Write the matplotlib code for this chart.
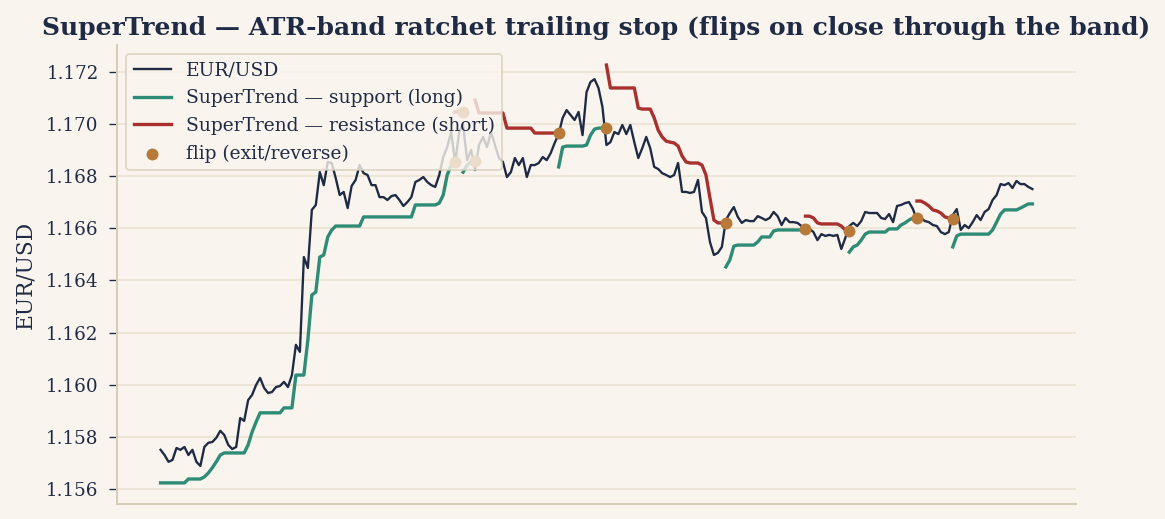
"""
SuperTrend sobre EUR/USD: precio, bandas de soporte/resistencia y puntos de giro.
"""
import numpy as np
import matplotlib
matplotlib.use("Agg")
import matplotlib.pyplot as plt

# ── Datos ─────────────────────────────────────────────────────────────────────
PRICE = [
    1.15750, 1.15730, 1.15704, 1.15711, 1.15757, 1.15750, 1.15761, 1.15730, 1.15750, 1.15704,
    1.15688, 1.15761, 1.15777, 1.15780, 1.15796, 1.15823, 1.15807, 1.15769, 1.15753, 1.15761,
    1.15872, 1.15861, 1.15941, 1.15961, 1.15999, 1.16026, 1.15988, 1.15968, 1.15972, 1.15991,
    1.15995, 1.16011, 1.15991, 1.16037, 1.16153, 1.16126, 1.16490, 1.16448, 1.16671, 1.16690,
    1.16816, 1.16766, 1.16855, 1.16851, 1.16793, 1.16728, 1.16740, 1.16678, 1.16763, 1.16786,
    1.16843, 1.16812, 1.16805, 1.16766, 1.16766, 1.16720, 1.16720, 1.16709, 1.16724, 1.16728,
    1.16709, 1.16686, 1.16701, 1.16720, 1.16778, 1.16786, 1.16797, 1.16778, 1.16766, 1.16759,
    1.16805, 1.16874, 1.16912, 1.16970, 1.16851, 1.16970, 1.16997, 1.16862, 1.16901, 1.16824,
    1.16920, 1.16951, 1.16912, 1.16970, 1.16920, 1.16870, 1.16855, 1.16797, 1.16816, 1.16870,
    1.16843, 1.16870, 1.16797, 1.16843, 1.16843, 1.16851, 1.16874, 1.16862, 1.16889, 1.16928,
    1.16962, 1.17024, 1.17054, 1.17035, 1.17016, 1.17047, 1.16958, 1.17123, 1.17162, 1.17173,
    1.17139, 1.17066, 1.16920, 1.16931, 1.16970, 1.16962, 1.16997, 1.16962, 1.16997, 1.16931,
    1.16870, 1.16908, 1.16951, 1.16908, 1.16836, 1.16828, 1.16812, 1.16805, 1.16797, 1.16805,
    1.16851, 1.16740, 1.16740, 1.16736, 1.16740, 1.16786, 1.16663, 1.16640, 1.16548, 1.16498,
    1.16506, 1.16529, 1.16632, 1.16659, 1.16682, 1.16644, 1.16621, 1.16632, 1.16628, 1.16628,
    1.16647, 1.16640, 1.16632, 1.16640, 1.16663, 1.16647, 1.16613, 1.16640, 1.16624, 1.16624,
    1.16621, 1.16609, 1.16586, 1.16598, 1.16586, 1.16555, 1.16578, 1.16571, 1.16575, 1.16571,
    1.16575, 1.16521, 1.16563, 1.16609, 1.16621, 1.16609, 1.16628, 1.16663, 1.16659, 1.16659,
    1.16659, 1.16640, 1.16636, 1.16655, 1.16624, 1.16686, 1.16690, 1.16697, 1.16701, 1.16674,
    1.16632, 1.16640, 1.16628, 1.16624, 1.16613, 1.16609, 1.16586, 1.16578, 1.16586, 1.16651,
    1.16674, 1.16594, 1.16613, 1.16601, 1.16624, 1.16651, 1.16632, 1.16663, 1.16674, 1.16709,
    1.16728, 1.16770, 1.16766, 1.16774, 1.16755, 1.16782, 1.16770, 1.16770, 1.16759, 1.16751,
]

N = None  # sin banda en ese tramo
SUPPORT = [
    1.15623, 1.15623, 1.15623, 1.15623, 1.15623, 1.15623, 1.15623, 1.15638, 1.15638, 1.15638,
    1.15638, 1.15646, 1.15661, 1.15681, 1.15704, 1.15730, 1.15738, 1.15738, 1.15738, 1.15738,
    1.15738, 1.15738, 1.15769, 1.15819, 1.15857, 1.15892, 1.15892, 1.15892, 1.15892, 1.15892,
    1.15892, 1.15911, 1.15911, 1.15911, 1.16037, 1.16037, 1.16037, 1.16172, 1.16344, 1.16356,
    1.16490, 1.16498, 1.16567, 1.16594, 1.16609, 1.16609, 1.16609, 1.16609, 1.16609, 1.16609,
    1.16609, 1.16644, 1.16644, 1.16644, 1.16644, 1.16644, 1.16644, 1.16644, 1.16644, 1.16644,
    1.16644, 1.16644, 1.16644, 1.16644, 1.16690, 1.16690, 1.16690, 1.16690, 1.16690, 1.16690,
    1.16697, 1.16728, 1.16805, 1.16843, 1.16855, N, 1.16816, 1.16843, 1.16855, 1.16859,
    N, N, N, N, N, N, N, N, N, N,
    N, N, N, N, N, N, N, N, N, N,
    1.16836, 1.16912, 1.16916, 1.16916, 1.16916, 1.16916, 1.16916, 1.16920, 1.16958, 1.16981,
    1.16985, 1.16985, 1.16985, N, N, N, N, N, N, N,
    N, N, N, N, N, N, N, N, N, N,
    N, N, N, N, N, N, N, N, N, N,
    N, N, 1.16452, 1.16479, 1.16532, 1.16536, 1.16536, 1.16536, 1.16536, 1.16536,
    1.16548, 1.16567, 1.16567, 1.16567, 1.16590, 1.16594, 1.16594, 1.16594, 1.16594, 1.16594,
    1.16594, 1.16594, 1.16598, N, N, N, N, N, N, N,
    N, N, N, 1.16509, 1.16529, 1.16536, 1.16555, 1.16578, 1.16586, 1.16586,
    1.16586, 1.16586, 1.16586, 1.16598, 1.16598, 1.16598, 1.16613, 1.16621, 1.16632, 1.16640,
    1.16640, N, N, N, N, N, N, N, N, 1.16529,
    1.16571, 1.16578, 1.16578, 1.16578, 1.16578, 1.16578, 1.16578, 1.16578, 1.16578, 1.16594,
    1.16624, 1.16655, 1.16671, 1.16671, 1.16671, 1.16671, 1.16678, 1.16686, 1.16694, 1.16694,
]

RESISTANCE = [
    N, N, N, N, N, N, N, N, N, N,
    N, N, N, N, N, N, N, N, N, N,
    N, N, N, N, N, N, N, N, N, N,
    N, N, N, N, N, N, N, N, N, N,
    N, N, N, N, N, N, N, N, N, N,
    N, N, N, N, N, N, N, N, N, N,
    N, N, N, N, N, N, N, N, N, N,
    N, N, N, N, 1.17047, 1.17047, 1.17047, N, N, 1.17093,
    1.17043, 1.17043, 1.17043, 1.17043, 1.17043, 1.17043, 1.17043, 1.16985, 1.16985, 1.16985,
    1.16985, 1.16985, 1.16985, 1.16985, 1.16966, 1.16966, 1.16966, 1.16966, 1.16966, 1.16966,
    1.16966, N, N, N, N, N, N, N, N, N,
    N, N, 1.17227, 1.17139, 1.17139, 1.17139, 1.17139, 1.17139, 1.17139, 1.17139,
    1.17062, 1.17058, 1.17058, 1.17058, 1.17024, 1.16977, 1.16951, 1.16935, 1.16931, 1.16928,
    1.16916, 1.16878, 1.16855, 1.16851, 1.16851, 1.16851, 1.16843, 1.16805, 1.16717, 1.16632,
    1.16621, 1.16621, 1.16621, N, N, N, N, N, N, N,
    N, N, N, N, N, N, N, N, N, N,
    N, N, 1.16647, 1.16647, 1.16640, 1.16621, 1.16617, 1.16617, 1.16617, 1.16617,
    1.16617, 1.16609, 1.16594, 1.16590, N, N, N, N, N, N,
    N, N, N, N, N, N, N, N, N, N,
    1.16705, 1.16705, 1.16697, 1.16686, 1.16671, 1.16667, 1.16659, 1.16644, 1.16640, 1.16636,
    N, N, N, N, N, N, N, N, N, N,
    N, N, N, N, N, N, N, N, N, N,
]

# Giros: barra del cruce y nivel de la banda que se rompe
FLIP_IDX = [74, 76, 79, 100, 112, 142, 162, 173, 190, 199]
FLIP_LEVEL = [1.16855, 1.17047, 1.16859, 1.16966, 1.16985,
              1.16621, 1.16598, 1.16590, 1.16640, 1.16636]

Y_TICKS = [1.156, 1.158, 1.160, 1.162, 1.164, 1.166, 1.168, 1.170, 1.172]

# ── Estilo ────────────────────────────────────────────────────────────────────
BG = "#f9f5ee"
NAVY = "#1f2a44"
GREEN = "#2e8b76"
RED = "#a8302e"
FLIP = "#b87a3a"

plt.rcParams["font.family"] = ["DejaVu Serif"]

# ── Figura ────────────────────────────────────────────────────────────────────
x = np.arange(len(PRICE))
support = np.array([np.nan if v is None else v for v in SUPPORT], dtype=float)
resistance = np.array([np.nan if v is None else v for v in RESISTANCE], dtype=float)

fig, ax = plt.subplots(figsize=(1165 / 120, 519 / 120), dpi=120)
fig.patch.set_facecolor(BG)
ax.set_facecolor(BG)

ax.plot(x, PRICE, color=NAVY, lw=1.4, label="EUR/USD", zorder=3)
ax.plot(x, support, color=GREEN, lw=2.0, label="SuperTrend — support (long)", zorder=2)
ax.plot(x, resistance, color=RED, lw=2.0, label="SuperTrend — resistance (short)", zorder=2)
ax.scatter(FLIP_IDX, FLIP_LEVEL, s=38, color=FLIP, zorder=4, label="flip (exit/reverse)")

ax.set_ylim(1.15542, 1.17304)
ax.set_yticks(Y_TICKS)
ax.set_yticklabels([f"{v:.3f}" for v in Y_TICKS])
ax.set_xticks([])
ax.grid(axis="y", color="#ebe3d2", lw=1.0)
ax.set_axisbelow(True)
ax.tick_params(axis="y", colors=NAVY, labelsize=11, length=5, pad=6, color=NAVY)

for side in ("top", "right"):
    ax.spines[side].set_visible(False)
for side in ("left", "bottom"):
    ax.spines[side].set_color("#d6cdb9")
    ax.spines[side].set_linewidth(1.2)

ax.set_ylabel("EUR/USD", color=NAVY, fontsize=13, labelpad=6)
ax.set_title("SuperTrend — ATR-band ratchet trailing stop (flips on close through the band)",
             color=NAVY, fontsize=15, fontweight="bold", pad=6)

leg = ax.legend(loc="upper left", fontsize=11.2, frameon=True, facecolor=BG,
                edgecolor="#d6cdb9", framealpha=0.8, labelcolor=NAVY)

plt.subplots_adjust(left=0.1004, right=0.9236, top=0.9133, bottom=0.0289)
plt.savefig("out.png", dpi=120, facecolor=BG)
